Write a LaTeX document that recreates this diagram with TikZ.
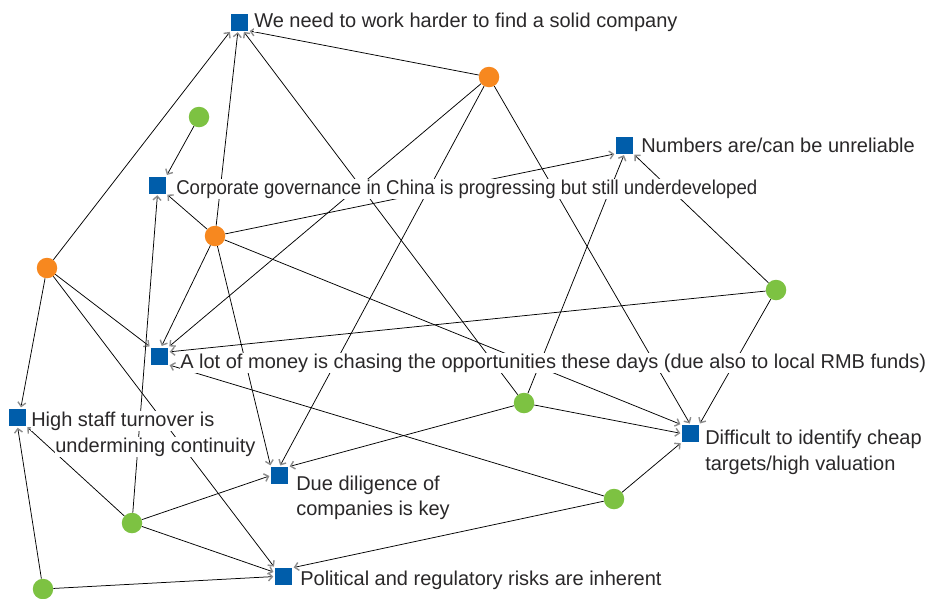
\documentclass[tikz,border=0pt]{standalone}
\usepackage{fontspec}
\setmainfont{Liberation Sans}
\usetikzlibrary{arrows.meta}
\definecolor{nodeblue}{HTML}{005DAA}
\definecolor{norange}{HTML}{F7881F}
\definecolor{ngreen}{HTML}{7DC242}
\definecolor{tipgray}{HTML}{8C8C8C}
\definecolor{txtcol}{HTML}{2A2829}
\begin{document}
\begin{tikzpicture}[x=1pt,y=-1pt,
  sq/.style={rectangle, fill=nodeblue, minimum size=17pt, inner sep=0pt},
  dotor/.style={circle, fill=norange, minimum size=20.5pt, inner sep=0pt},
  dotgr/.style={circle, fill=ngreen, minimum size=20.5pt, inner sep=0pt},
  lbl/.style={anchor=base west, fill=white, inner sep=0.6pt, text=txtcol, font=\fontsize{20}{24}\selectfont},
  edge/.style={draw=black, line width=0.75pt, -{Straight Barb[length=4pt,width=8pt,line width=1.4pt,color=tipgray]}, shorten >=1.5pt}]
\useasboundingbox (0,0) rectangle (926,598);
% squares
\node[sq] (S1) at (239.5,22) {};
\node[sq] (S2) at (157.5,185) {};
\node[sq] (S3) at (624.5,145) {};
\node[sq] (S4) at (159.5,356) {};
\node[sq] (S5) at (17.5,417.5) {};
\node[sq] (S6) at (279.5,475.5) {};
\node[sq] (S7) at (283.5,576.5) {};
\node[sq] (S8) at (690.5,433.5) {};
% circles
\node[dotor] (O1) at (489,77) {};
\node[dotor] (O2) at (215,236) {};
\node[dotor] (O3) at (47,268) {};
\node[dotgr] (G1) at (199,117) {};
\node[dotgr] (G2) at (776,290) {};
\node[dotgr] (G3) at (524,403) {};
\node[dotgr] (G4) at (614,499) {};
\node[dotgr] (G5) at (132,523) {};
\node[dotgr] (G6) at (43,589) {};
% edges
\draw[edge] (O1) -- (S1.south east);
\draw[edge] (O1) -- (S4.north east);
\draw[edge] (O1) -- (S6.north);
\draw[edge] (O1) -- (S8.north);
\draw[edge] (O2) -- (S1.-100);
\draw[edge] (O2) -- (S2.south east);
\draw[edge] (O2) -- (S3.south west);
\draw[edge] (O2) -- (S4.80);
\draw[edge] (O2) -- (S6.north west);
\draw[edge] (O2) -- (S8.north west);
\draw[edge] (O3) -- (S1.south west);
\draw[edge] (O3) -- (S4.north west);
\draw[edge] (O3) -- (S5.70);
\draw[edge] (O3) -- (S7.north west);
\draw[edge] (G1) -- (S2.north east);
\draw[edge] (G2) -- (S3.south east);
\draw[edge] (G2) -- (S4.25);
\draw[edge] (G2) -- (S8.north east);
\draw[edge] (G3) -- (S1.-68);
\draw[edge] (G3) -- (S3.south);
\draw[edge] (G3) -- (S6.north east);
\draw[edge] (G3) -- (S8.west);
\draw[edge] (G4) -- (S4.south east);
\draw[edge] (G4) -- (S7.north east);
\draw[edge] (G4) -- (S8.south west);
\draw[edge] (G5) -- (S2.south);
\draw[edge] (G5) -- (S5.south east);
\draw[edge] (G5) -- (S6.west);
\draw[edge] (G5) -- (S7.155);
\draw[edge] (G6) -- (S5.south);
\draw[edge] (G6) -- (S7.west);
% labels
\node[lbl] (T1) at (253.5,27) {We need to work harder to find a solid company};
\node[lbl] (T2) at (175.5,194) {\scalebox{0.93}[1]{Corporate governance in China is progressing but still underdeveloped}};
\node[lbl] (T3) at (640.5,152) {Numbers are/can be unreliable};
\node[lbl] (T4) at (179.5,368) {A lot of money is chasing the opportunities these days (due also to local RMB funds)};
\node[lbl] (T5a) at (30.5,426) {High staff turnover is};
\node[lbl] (T5b) at (54.5,452.5) {undermining continuity};
\node[lbl] (T6a) at (295.5,490) {Due diligence of};
\node[lbl] (T6b) at (295.5,515) {companies is key};
\node[lbl] (T7) at (299.5,585) {Political and regulatory risks are inherent};
\node[lbl] (T8a) at (704.5,444) {Difficult to identify cheap};
\node[lbl] (T8b) at (704.5,470) {targets/high valuation};
\end{tikzpicture}
\end{document}
